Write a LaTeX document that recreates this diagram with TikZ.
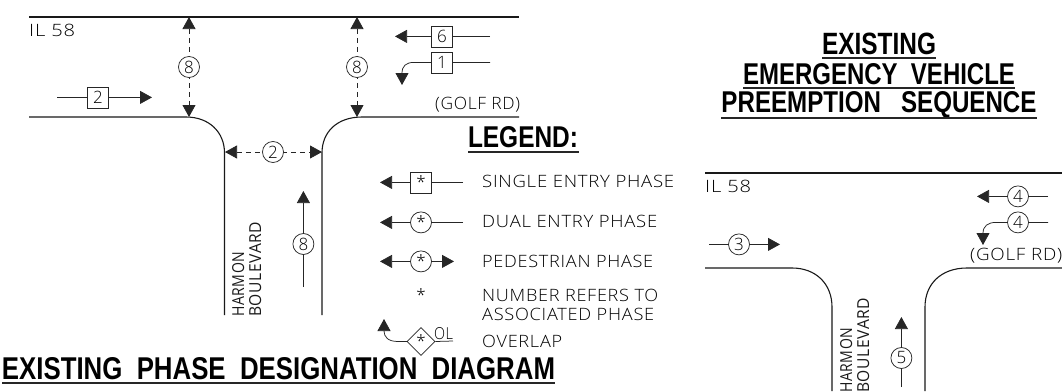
\documentclass[tikz,border=0pt]{standalone}
\usepackage{fontspec}
\usepackage{graphicx}
\setmainfont{Open Sans Light}[LetterSpace=4]
\newfontfamily\titlefont{Liberation Sans}
\newfontfamily\roadfont{Open Sans}[LetterSpace=4]
\usetikzlibrary{shapes.geometric,arrows.meta}
\newcommand{\fitw}[2]{\resizebox{#1pt}{\height}{#2}}
\newcommand{\fitt}[3]{\resizebox{#1pt}{#2pt}{\titlefont\bfseries #3}}
\tikzset{
 road/.style={line width=1.1pt,draw=black!90},
 thin line/.style={line width=0.75pt,draw=black!85},
 tip/.tip={Triangle[length=12pt,width=13pt]},
 arr/.style={thin line,-tip},
 darr/.style={thin line,dash pattern=on 5pt off 4pt,tip-tip},
 phasebox/.style={draw=black!85,line width=0.75pt,fill=white,minimum size=21pt,inner sep=0pt,font=\fontsize{17}{17}\selectfont},
 phasecirc/.style={draw=black!85,line width=0.75pt,fill=white,circle,minimum size=21pt,inner sep=0pt,font=\fontsize{17}{17}\selectfont},
 phasedia/.style={draw=black!85,line width=0.75pt,fill=white,diamond,minimum size=28pt,inner sep=0pt,font=\fontsize{17}{17}\selectfont},
 lab/.style={inner sep=0pt,anchor=west,font=\fontsize{17}{19}\selectfont,text=black},
 roadname/.style={inner sep=0pt,rotate=90,align=left,font=\roadfont\fontsize{16.5}{17}\selectfont,text=black!90},
 ttl/.style={inner sep=0pt,text=black},
 under/.style={line width=1.4pt,draw=black!85},
}
\begin{document}
\begin{tikzpicture}[x=1pt,y=-1pt]
\useasboundingbox (0,0) rectangle (1062,391);
% left diagram
\draw[road] (29,17) -- (519,17);
\draw[road] (29,117) -- (186,117) .. controls (209,117) and (224.5,132) .. (224.5,153) -- (224.5,315);
\draw[road] (322,315) -- (322,153) .. controls (322,132) and (337,117) .. (362,117) -- (519,117);
\node[lab] (il1) at (29,30) {\fitw{46}{IL 58}};
\node[lab] (golf1) at (435,105) {\fitw{85}{(GOLF RD)}};
\coordinate (t8a) at (189,17); \coordinate (b8a) at (189,117);
\coordinate (t8b) at (357,17); \coordinate (b8b) at (357,117);
\coordinate (l2) at (225,152); \coordinate (r2) at (322,152);
\draw[darr] (t8a) -- (b8a);
\draw[darr] (t8b) -- (b8b);
\draw[darr] (l2) -- (r2);
\node[phasecirc] (c8a) at (189,67) {8};
\node[phasecirc] (c8b) at (357,67) {8};
\node[phasecirc] (c2) at (273,152) {2};
\coordinate (s2) at (57,97.4); \coordinate (e2) at (152,97.4);
\draw[arr] (s2) -- (e2);
\node[phasebox] (b2) at (98,97.4) {2};
\coordinate (s6) at (490,36.4); \coordinate (e6) at (395,36.4);
\draw[arr] (s6) -- (e6);
\node[phasebox] (b6) at (442,36.4) {6};
\coordinate (s1) at (490,62.4); \coordinate (e1) at (402,85);
\draw[arr] (s1) -- (414,62.4) .. controls (406,62.4) and (402,66) .. (e1);
\node[phasebox] (b1) at (442,62.4) {1};
\coordinate (s8) at (303.4,287); \coordinate (e8) at (303.4,191);
\draw[arr] (s8) -- (e8);
\node[phasecirc] (c8c) at (303.4,244) {8};
\node[roadname,anchor=north west] (h1) at (232,317) {\fitw{65}{HARMON}\\\fitw{95}{BOULEVARD}};
% legend
\node[ttl] (leg) at (523,137.5) {\fitt{110}{21}{LEGEND:}};
\draw[under] (468,152) -- (579,152);
\coordinate (ls1) at (463,182.4); \coordinate (le1) at (380,182.4);
\draw[arr] (ls1) -- (le1);
\node[phasebox] (lb1) at (421,182.4) {*};
\node[lab] at (482,181) {\fitw{192}{SINGLE ENTRY PHASE}};
\coordinate (ls2) at (463,222.4); \coordinate (le2) at (380,222.4);
\draw[arr] (ls2) -- (le2);
\node[phasecirc] (lc2) at (421,222.4) {*};
\node[lab] at (482,221) {\fitw{175}{DUAL ENTRY PHASE}};
\coordinate (ls3) at (454,261.4); \coordinate (le3) at (380,261.4);
\draw[thin line,tip-tip] (le3) -- (ls3);
\node[phasecirc] (lc3) at (421,261.4) {*};
\node[lab] at (482,261) {\fitw{171}{PEDESTRIAN PHASE}};
\node[inner sep=0pt,font=\fontsize{17}{17}\selectfont,text=black] (st) at (421,295) {*};
\node[lab] at (482,295) {\fitw{176}{NUMBER REFERS TO}};
\node[lab] at (482,314) {\fitw{172}{ASSOCIATED PHASE}};
\coordinate (le4) at (384,319);
\coordinate (ds) at (421,341.5);
\draw[arr] (ds) -- (398,341.5) .. controls (388,341.5) and (384,337) .. (le4);
\node[phasedia] (ld) at (ds) {*};
\draw[thin line] (ld.east) -- (453,341);
\node[inner sep=0pt,font=\fontsize{16.5}{17}\selectfont,text=black] (ol) at (443.5,334) {\fitw{19}{OL}};
\node[lab] at (482,341) {\fitw{80}{OVERLAP}};
\node[ttl] (t1) at (278.5,369) {\fitt{553}{22}{EXISTING\ \ PHASE\ \ DESIGNATION\ \ DIAGRAM}};
\draw[under] (2,383) -- (555,383);
% right titles
\node[ttl] (t2) at (879,44) {\fitt{114}{21.5}{EXISTING}};
\draw[under] (822,58) -- (936,58);
\node[ttl] (t3) at (879,74) {\fitt{272}{21}{EMERGENCY\ \ VEHICLE}};
\draw[under] (743,88) -- (1015,88);
\node[ttl] (t4) at (879,105) {\fitt{315}{21}{PREEMPTION\ \ \ SEQUENCE}};
\draw[under] (721,118) -- (1037,118);
% right diagram
\draw[road] (705,173) -- (1062,173);
\draw[road] (705,268) -- (792,268) .. controls (816,268) and (832,284) .. (832,307) -- (832,391);
\draw[road] (925,391) -- (925,307) .. controls (925,284) and (941,268) .. (967,268) -- (1062,268);
\node[lab] (il2) at (705,186) {\fitw{46}{IL 58}};
\node[lab] (golf2) at (970,256) {\fitw{92}{(GOLF RD)}};
\coordinate (s4a) at (1048,196.4); \coordinate (e4a) at (977,196.4);
\draw[arr] (s4a) -- (e4a);
\node[phasecirc] (c4a) at (1018,196.4) {4};
\coordinate (s4b) at (1048,222.4); \coordinate (e4b) at (983,245);
\draw[arr] (s4b) -- (996,222.4) .. controls (988,222.4) and (983,226) .. (e4b);
\node[phasecirc] (c4b) at (1018,222.4) {4};
\coordinate (s3) at (709,244.4); \coordinate (e3) at (780,244.4);
\draw[arr] (s3) -- (e3);
\node[phasecirc] (c3) at (739,244.4) {3};
\coordinate (s5) at (901.4,387); \coordinate (e5) at (901.4,317);
\draw[arr] (s5) -- (e5);
\node[phasecirc] (c5) at (901.4,358) {5};
\node[roadname,anchor=north west] (h2) at (840,393) {\fitw{65}{HARMON}\\\fitw{95}{BOULEVARD}};
\end{tikzpicture}
\end{document}
